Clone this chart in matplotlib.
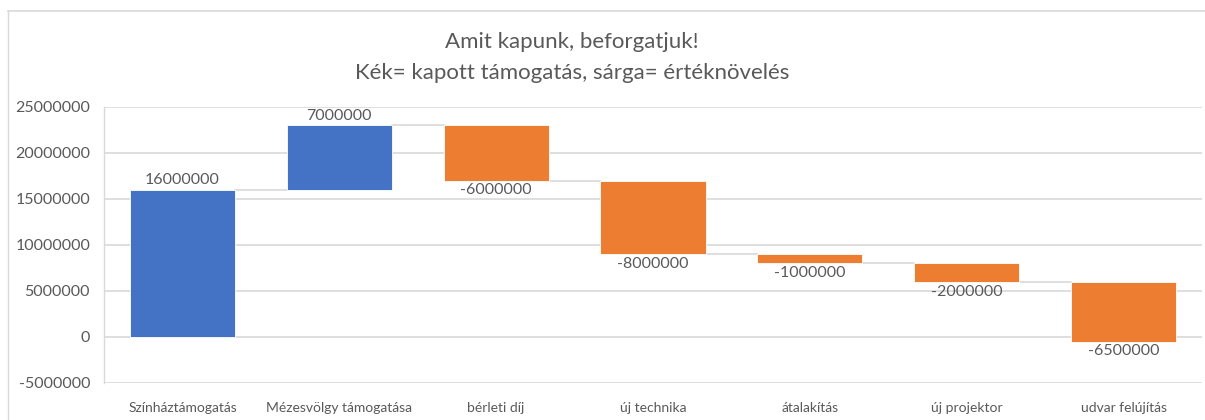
import matplotlib
matplotlib.use("Agg")
import matplotlib.pyplot as plt
from matplotlib.lines import Line2D
import numpy as np

categories = ["Színháztámogatás", "Mézesvölgy támogatása", "bérleti díj", "új technika",
              "átalakítás", "új projektor", "udvar felújítás"]
values = [16000000, 7000000, -6000000, -8000000, -1000000, -2000000, -6500000]
yticks = [-5000000, 0, 5000000, 10000000, 15000000, 20000000, 25000000]

BLUE = "#4472C4"
ORANGE = "#ED7D31"
GRID = "#D9D9D9"
TXT = "#595959"

plt.rcParams['font.family'] = ['Lato', 'DejaVu Sans']

W, H = 1205, 420
fig = plt.figure(figsize=(W / 100, H / 100), dpi=100)
ax = fig.add_axes([104 / W, 37 / H, (1202 - 104) / W, (383 - 107) / H])

x = np.arange(len(categories))
ends = np.cumsum(values)
starts = ends - np.array(values)
bw = 0.67
colors = [BLUE if v > 0 else ORANGE for v in values]
ax.bar(x, values, bottom=starts, width=bw, color=colors, zorder=3,
       edgecolor="white", linewidth=0.6)

# connectors
for i in range(len(values) - 1):
    ax.plot([x[i] + bw / 2, x[i + 1] - bw / 2], [ends[i], ends[i]],
            color=GRID, lw=1.2, zorder=2)

# labels
for i, v in enumerate(values):
    if v > 0:
        ax.annotate(f"{v}", (x[i], ends[i]), xytext=(0, 2), textcoords="offset points",
                    ha="center", va="bottom", fontsize=11.5, color=TXT)
    else:
        ax.annotate(f"{v}", (x[i], ends[i]), xytext=(0, -2), textcoords="offset points",
                    ha="center", va="top", fontsize=11.5, color=TXT)

ax.set_xlim(-0.5, len(categories) - 0.5)
ax.set_ylim(yticks[0], yticks[-1])
ax.set_yticks(yticks)
ax.set_yticklabels([str(t) for t in yticks], fontsize=11.5, color=TXT)
ax.set_xticks(x)
ax.set_xticklabels(categories, fontsize=10, color=TXT)
ax.tick_params(axis="both", length=0)
ax.tick_params(axis="y", pad=10)
ax.tick_params(axis="x", pad=14)
ax.grid(axis="y", color=GRID, lw=1.2, zorder=0)
for s in ["top", "right", "bottom"]:
    ax.spines[s].set_visible(False)
ax.spines["left"].set_color(GRID)
ax.spines["left"].set_linewidth(1.0)

fig.text(572 / W, 1 - 42 / H, "Amit kapunk, beforgatjuk!", ha="center", va="center",
         fontsize=16, color=TXT)
fig.text(572 / W, 1 - 73 / H, "Kék= kapott támogatás, sárga= értéknövelés", ha="center",
         va="center", fontsize=16, color=TXT)

# sheet/chart border lines
fig.add_artist(Line2D([8 / W, 1], [1 - 11 / H, 1 - 11 / H], color=GRID, lw=1.2,
                      transform=fig.transFigure))
fig.add_artist(Line2D([8 / W, 8 / W], [0, 1 - 11 / H], color=GRID, lw=1.0,
                      transform=fig.transFigure))

fig.savefig("out.png", dpi=100)
